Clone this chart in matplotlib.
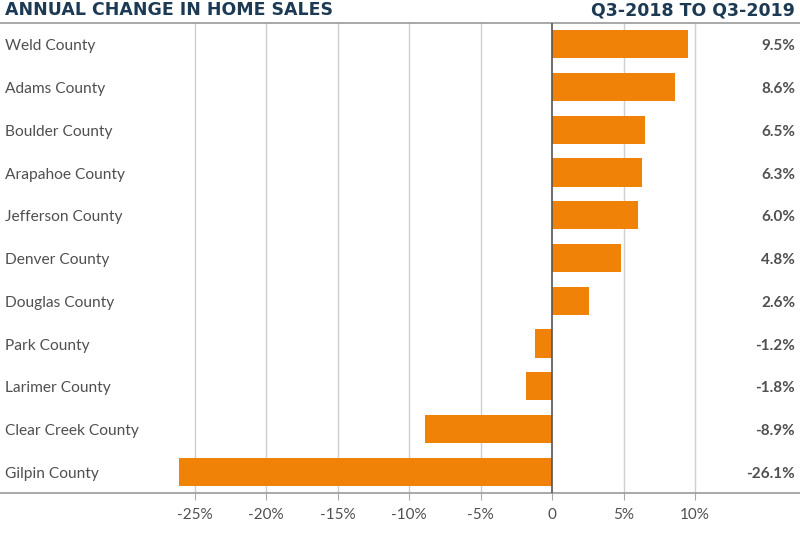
import matplotlib.pyplot as plt

# data
counties = ["Weld County", "Adams County", "Boulder County", "Arapahoe County",
            "Jefferson County", "Denver County", "Douglas County", "Park County",
            "Larimer County", "Clear Creek County", "Gilpin County"]
changes = [9.5, 8.6, 6.5, 6.3, 6.0, 4.8, 2.6, -1.2, -1.8, -8.9, -26.1]
ticks = [-25, -20, -15, -10, -5, 0, 5, 10]
tick_labels = ["-25%", "-20%", "-15%", "-10%", "-5%", "0", "5%", "10%"]

orange = "#F08208"
navy = "#1D3A55"
grey_txt = "#505050"

plt.rcParams['font.family'] = ['Lato', 'DejaVu Sans']

fig = plt.figure(figsize=(8, 5.4), dpi=100)
ax = fig.add_axes([0, 47/540, 1, 470/540])

ypos = list(range(len(counties)))
ax.barh(ypos, changes, height=0.66, color=orange, zorder=3)

ax.set_xlim(-552/14.3, 248/14.3)
ax.set_ylim(len(counties) - 0.5, -0.5)

for t in ticks:
    if t != 0:
        ax.axvline(t, color="#cfcfcf", lw=1, zorder=1)
ax.axvline(0, color="#555555", lw=1.2, zorder=4)

for y, name, v in zip(ypos, counties, changes):
    ax.text(-552/14.3 + 5/14.3, y + 0.05, name, ha="left", va="center",
            fontsize=11.2, color=grey_txt)
    ax.text(248/14.3 - 5/14.3, y + 0.05, f"{v:.1f}%", ha="right", va="center",
            fontsize=11, color=grey_txt, fontweight="bold")

ax.set_yticks([])
ax.set_xticks(ticks)
ax.set_xticklabels(tick_labels, fontsize=11, color=grey_txt)
ax.tick_params(axis="x", length=5, color="#aaaaaa", pad=6)

for s in ["left", "right"]:
    ax.spines[s].set_visible(False)
ax.spines["top"].set_color("#999999")
ax.spines["bottom"].set_color("#999999")
ax.spines["top"].set_linewidth(1.2)
ax.spines["bottom"].set_linewidth(1.2)

fig.text(5/800, 1 - 10/540, "ANNUAL CHANGE IN HOME SALES", ha="left", va="center",
         fontsize=12.5, fontweight="bold", color=navy, family=["DejaVu Sans"])
fig.text(1 - 5/800, 1 - 10/540, "Q3-2018 TO Q3-2019", ha="right", va="center",
         fontsize=12.5, fontweight="bold", color=navy, family=["DejaVu Sans"])

fig.savefig("out.png", dpi=100)
